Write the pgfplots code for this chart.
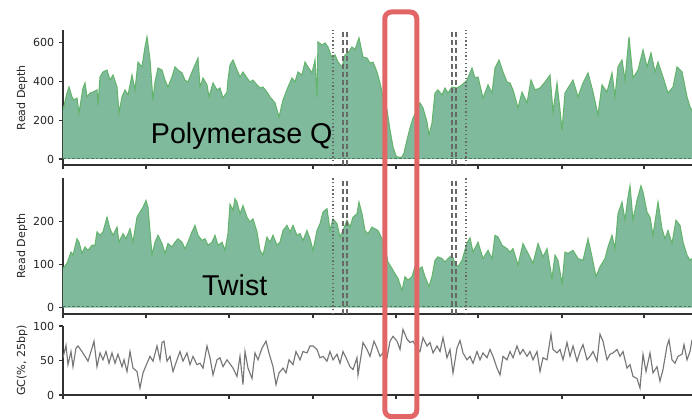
\documentclass[border=0pt]{standalone}
\usepackage{fontspec}
\setmainfont{DejaVu Sans}
\newfontfamily\arialfont{Liberation Sans}
\usepackage{pgfplots}
\usepackage{pgfplotstable}
\pgfplotsset{compat=1.18}

\definecolor{fillgreen}{RGB}{128,186,157}
\definecolor{linegreen}{RGB}{100,180,110}
\definecolor{zerogreen}{RGB}{70,120,90}
\definecolor{boxred}{RGB}{226,102,102}
\definecolor{spine}{RGB}{50,50,50}
\definecolor{vline}{RGB}{105,105,105}
\definecolor{gcgray}{RGB}{118,118,118}

% read depth, Polymerase Q
\pgfplotstableread{
x y
0 253
4 341
6 372
9 321
11 305
14 315
16 238
20 367
22 393
24 321
27 341
30 346
34 357
35 279
37 424
40 450
44 460
47 408
50 434
54 372
56 238
59 321
62 357
65 331
69 434
72 357
75 501
79 476
82 579
84 631
87 512
90 305
92 398
95 470
99 460
102 408
105 372
109 424
112 476
115 460
119 445
122 408
125 398
129 450
132 486
135 522
137 372
140 419
144 383
146 321
150 393
154 357
157 367
160 315
164 346
165 408
167 486
170 512
174 460
177 424
180 450
184 419
187 398
190 408
194 383
197 367
200 372
204 346
207 321
212 290
216 217
220 305
225 372
229 419
232 398
235 450
239 434
242 501
245 476
249 445
252 512
254 321
255 605
259 589
262 600
265 579
269 522
272 538
275 501
279 476
282 538
285 548
289 579
292 564
296 626
300 527
304 522
307 496
310 501
314 450
317 393
320 321
324 253
327 150
330 62
333 15
335 10
339 10
341 31
344 98
347 160
350 212
354 253
357 290
360 264
364 191
366 124
369 186
372 341
375 357
379 331
382 367
385 341
389 372
394 367
399 383
404 408
409 470
412 419
415 424
420 315
425 383
429 341
432 470
436 512
440 450
444 398
447 393
450 357
455 264
459 346
464 290
468 408
472 357
477 367
482 398
487 434
490 243
494 393
497 253
499 150
502 341
505 367
510 408
515 321
520 393
525 445
530 346
535 227
539 383
544 346
549 445
552 321
555 476
559 512
562 408
566 631
570 419
575 460
580 564
584 476
588 548
592 450
595 501
600 424
605 341
610 372
614 476
619 450
624 321
627 269
629 253
}\polq

% read depth, Twist
\pgfplotstableread{
x y
0 91
4 103
8 129
10 122
14 160
16 152
19 126
22 141
25 133
29 145
32 145
34 176
37 168
40 176
44 210
47 183
50 168
54 187
56 152
60 172
63 160
67 183
70 152
74 210
77 222
80 233
83 249
85 233
89 122
92 152
95 168
99 149
102 126
105 149
109 141
112 152
115 160
119 152
122 137
125 152
129 176
132 191
135 168
139 156
142 160
145 145
149 152
152 168
155 145
159 152
162 133
165 172
167 240
170 226
172 253
174 245
177 218
180 237
184 210
187 199
190 206
194 176
197 133
200 122
204 164
207 152
210 168
214 145
217 152
220 179
224 191
227 176
230 191
234 168
237 172
240 156
244 179
247 160
250 133
254 179
257 195
260 222
264 230
267 179
270 206
274 195
277 164
280 179
284 203
287 187
290 210
294 218
296 245
299 218
302 179
305 172
309 187
312 183
315 179
319 160
322 141
325 106
329 91
332 79
335 68
339 40
342 72
345 64
349 72
352 95
355 87
359 95
362 72
366 49
369 72
372 110
375 118
379 114
382 106
385 114
389 122
392 103
395 95
399 110
404 150
407 162
410 129
415 152
420 114
425 133
429 114
432 168
435 164
439 145
444 137
447 129
450 137
455 99
460 149
465 126
470 103
475 149
480 118
484 137
489 68
492 122
495 110
499 56
502 129
505 126
510 133
515 114
520 110
525 160
529 118
533 72
537 95
542 114
545 141
549 168
552 137
555 218
559 245
562 203
565 256
567 283
570 203
574 249
578 283
580 268
584 222
587 210
590 168
595 245
599 183
602 160
605 179
609 149
613 203
617 191
620 152
624 122
627 110
629 114
}\twist

% GC content, 25 bp windows
\pgfplotstableread{
x y
0 54
3 72
5 44
8 63
10 41
13 68
15 71
19 63
22 56
25 49
29 68
31 78
34 41
37 61
40 51
43 63
46 46
49 61
52 46
55 59
59 41
61 51
64 34
67 63
70 39
74 34
77 10
80 32
84 46
87 56
90 49
94 71
97 51
99 76
101 78
104 49
107 56
110 34
114 51
117 63
120 49
124 61
127 44
130 56
134 44
137 46
140 39
144 71
147 54
150 29
154 51
157 54
160 41
164 51
167 45
170 39
174 27
177 56
180 15
182 63
185 39
189 24
192 61
195 51
199 68
203 78
206 61
210 41
213 15
216 32
220 39
223 32
226 51
230 44
233 63
237 51
240 63
244 61
247 71
250 71
254 66
257 54
260 56
264 49
267 63
270 51
274 59
277 46
280 63
284 51
287 41
290 37
294 54
295 29
298 56
300 76
304 66
307 56
311 78
314 68
317 56
320 61
324 54
327 78
330 85
334 78
337 66
340 95
344 81
347 76
350 78
354 68
357 63
360 83
364 71
367 76
370 61
374 71
377 63
380 83
384 54
387 66
390 32
394 68
397 79
400 61
404 51
407 56
410 46
414 63
417 51
420 61
424 54
427 66
430 56
434 39
437 29
440 56
444 51
447 63
450 54
454 71
457 59
460 66
464 56
467 63
470 51
474 63
477 34
480 54
484 51
488 88
490 66
494 61
497 66
500 51
504 76
507 56
510 71
514 49
517 63
520 73
524 51
527 56
530 63
534 49
537 88
540 78
544 51
547 59
550 61
554 66
557 56
560 63
564 39
567 44
570 27
574 24
577 10
580 59
583 34
587 61
590 32
594 41
597 20
600 37
604 71
606 80
609 51
612 46
615 56
619 59
621 73
624 51
627 63
629 80
}\gc

\pgfplotsset{
  track/.style={
    scale only axis, width=471.75pt, anchor=south west,
    xmin=0, xmax=629,
    axis x line*=bottom, axis y line*=left,
    xtick={0,83,166,250,333,415,499,581},
    xticklabels={},
    tick align=outside,
    major tick length=3pt,
    tick style={spine, line width=0.8pt},
    axis line style={spine, line width=0.8pt},
    tick label style={font=\fontsize{8.3}{10}\selectfont, text=black!85},
    ylabel style={font=\fontsize{8.3}{10}\selectfont, text=black!85,
      at={(axis description cs:-0.065,0.5)}, anchor=center},
    /pgf/number format/assume math mode=true,
  },
  depth/.style={fill=fillgreen, draw=none},
  depthline/.style={linegreen, line width=0.8pt},
  dotv/.style={vline, line width=1pt, dash pattern=on 1pt off 1.8pt},
  dashv/.style={vline, line width=1pt, dash pattern=on 3.75pt off 2.25pt},
  zeroline/.style={zerogreen, line width=0.6pt, dash pattern=on 2pt off 1.5pt},
}

\begin{document}
\begin{tikzpicture}
\useasboundingbox (0,0) rectangle (519pt,315pt);

% top track
\begin{axis}[track, at={(47.25pt,191.25pt)}, height=101.25pt,
  ymin=-31, ymax=667, ytick={0,200,400,600}, ylabel={Read Depth}]
  \addplot[depth] table {\polq} \closedcycle;
  \addplot[depthline] table {\polq};
  \addplot[zeroline] coordinates {(0,5) (629,5)};
  \addplot[dotv] coordinates {(270,-31) (270,667)};
  \addplot[dashv] coordinates {(280,-31) (280,667)};
  \addplot[dashv] coordinates {(284,-31) (284,667)};
  \addplot[dashv] coordinates {(389,-31) (389,667)};
  \addplot[dashv] coordinates {(393,-31) (393,667)};
  \addplot[dotv] coordinates {(403,-31) (403,667)};
\end{axis}

% middle track
\begin{axis}[track, at={(47.25pt,79.5pt)}, height=102pt,
  ymin=-14.5, ymax=301, ytick={0,100,200}, ylabel={Read Depth}]
  \addplot[depth] table {\twist} \closedcycle;
  \addplot[depthline] table {\twist};
  \addplot[zeroline] coordinates {(0,4) (629,4)};
  \addplot[dotv] coordinates {(270,-14.5) (270,301)};
  \addplot[dashv] coordinates {(280,-14.5) (280,301)};
  \addplot[dashv] coordinates {(284,-14.5) (284,301)};
  \addplot[dashv] coordinates {(389,-14.5) (389,301)};
  \addplot[dashv] coordinates {(393,-14.5) (393,301)};
  \addplot[dotv] coordinates {(403,-14.5) (403,301)};
\end{axis}

% GC track
\begin{axis}[track, at={(47.25pt,18.75pt)}, height=51.75pt,
  ymin=0, ymax=100, ytick={0,50,100}, ylabel={GC(\%, 25bp)}]
  \addplot[gcgray, line width=0.85pt] table {\gc};
\end{axis}

\node[anchor=base west, inner sep=0pt, font=\arialfont\fontsize{21.5}{24}\selectfont]
  at (113pt,207pt) {Polymerase Q};
\node[anchor=base west, inner sep=0pt, font=\arialfont\fontsize{21.5}{24}\selectfont]
  at (151.3pt,93pt) {Twist};

\draw[boxred, line width=3.75pt, rounded corners=5pt]
  (288.6pt,2.5pt) rectangle (312.6pt,306pt);
\end{tikzpicture}
\end{document}
